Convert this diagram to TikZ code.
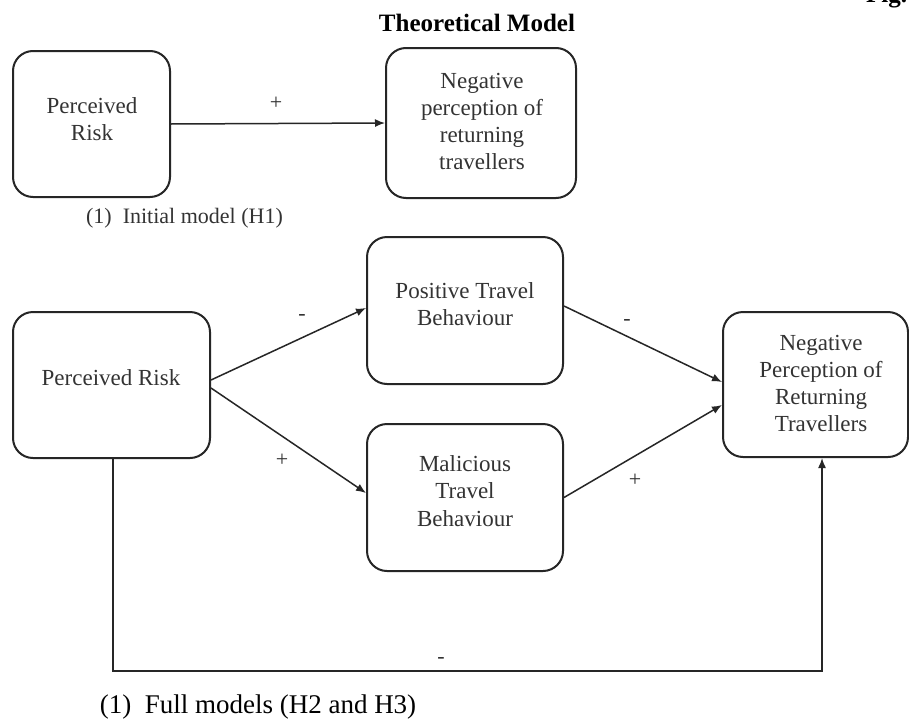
\documentclass[tikz,border=0pt]{standalone}
\usepackage{fontspec}
\setmainfont{Liberation Serif}
\usetikzlibrary{arrows.meta,calc}
\begin{document}
\begin{tikzpicture}[x=1pt,y=-1pt,
  box/.style={draw=black!85,line width=2pt,rounded corners=20pt,inner sep=0pt,fill=white},
  txt/.style={align=center,font=\fontsize{23}{27.5}\selectfont,text=black!80,inner sep=0pt},
  arr/.style={draw=black!85,line width=1.5pt,-{Latex[length=10pt,width=8pt]}},
  sign/.style={font=\fontsize{22}{22}\selectfont,text=black!80,inner sep=0pt},
  captxt/.style={inner sep=0pt,text=black}]
\useasboundingbox[fill=white] (0,0) rectangle (909,720);

% header
\node[captxt,font=\fontsize{25}{25}\selectfont\bfseries] (title) at (477,23) {Theoretical Model};
\node[captxt,font=\fontsize{25}{25}\selectfont\bfseries,anchor=base west] (fig) at (866,2) {Fig.};

% initial model
\node[box,minimum width=157pt,minimum height=146pt] (pr1) at (91.5,124) {};
\node[txt] (pr1t) at (92,119) {Perceived\\Risk};
\node[box,minimum width=190pt,minimum height=150pt] (neg1) at (481,123) {};
\node[txt,font=\fontsize{23}{27}\selectfont] (neg1t) at (482,121) {Negative\\perception of\\returning\\travellers};
\draw[arr] (pr1.east) -- (neg1.west);
\node[sign] (s1) at (276,103) {+};
\node[captxt,font=\fontsize{22}{22}\selectfont,text=black!80] (cap1) at (184.5,218) {(1)\ \ Initial model (H1)};

% full model
\node[box,minimum width=197pt,minimum height=146pt] (pr2) at (111.5,385) {};
\node[txt] (pr2t) at (111,378) {Perceived Risk};
\node[box,minimum width=196pt,minimum height=147pt] (pos) at (465,310.5) {};
\node[txt] (post) at (465,304) {Positive Travel\\Behaviour};
\node[box,minimum width=196pt,minimum height=147pt] (mal) at (465,497.5) {};
\node[txt] (malt) at (465,491) {Malicious\\Travel\\Behaviour};
\node[box,minimum width=185pt,minimum height=145pt] (neg2) at (815.5,384.5) {};
\node[txt,font=\fontsize{23}{27}\selectfont] (neg2t) at (821,383.5) {Negative\\Perception of\\Returning\\Travellers};

\draw[arr] ([yshift=5pt]pr2.east) -- ([yshift=2.5pt]pos.west);
\draw[arr] ([yshift=-3pt]pr2.east) -- ([yshift=4.5pt]mal.west);
\draw[arr] ([yshift=4.5pt]pos.east) -- ([yshift=2.5pt]neg2.west);
\draw[arr] (mal.east) -- ([yshift=-20.5pt]neg2.west);
\coordinate (bl) at (113,671);
\draw[arr] (pr2.south -| bl) -- (bl) -| ([xshift=6.5pt]neg2.south);

\node[sign] (s2) at (302,317) {-};
\node[sign] (s3) at (282,460) {+};
\node[sign] (s4) at (627,322) {-};
\node[sign] (s5) at (635,480) {+};
\node[sign] (s6) at (441,660) {-};

\node[captxt,font=\fontsize{27}{27}\selectfont] (cap2) at (258,707) {(1)\ \ Full models (H2 and H3)};
\end{tikzpicture}
\end{document}
